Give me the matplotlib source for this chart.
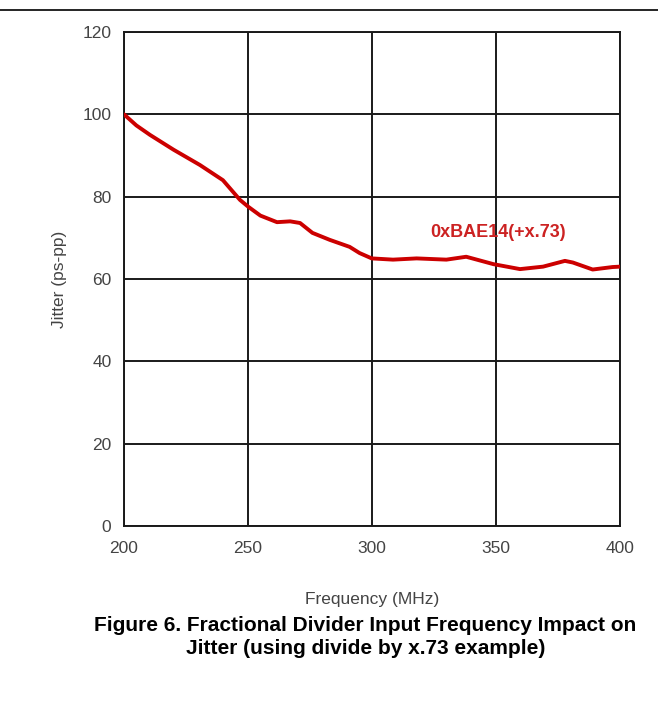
import matplotlib.pyplot as plt
import numpy as np

plt.rcParams['font.family'] = ['Liberation Sans', 'DejaVu Sans']

# values
freq = [200, 205, 210.5, 220, 230.6, 239.9, 246.8, 250, 255, 261.7, 267, 271,
        276, 283, 291, 295, 299.9, 308.5, 318, 330, 338, 349, 359.7, 369,
        377.8, 381, 389, 397, 400]
jitter = [100, 97.3, 95.0, 91.4, 87.7, 84.0, 79.2, 77.6, 75.4, 73.8, 74.0, 73.6,
          71.2, 69.5, 67.8, 66.3, 65.0, 64.7, 65.0, 64.7, 65.4, 63.6, 62.4, 63.0,
          64.4, 64.0, 62.3, 62.9, 63.0]

xticks = [200, 250, 300, 350, 400]
yticks = [0, 20, 40, 60, 80, 100, 120]

fig = plt.figure(figsize=(6.58, 7.03), dpi=100)
ax = fig.add_axes([0.1884, 0.2518, 0.7538, 0.7027])

ax.plot(freq, jitter, color='#cc0000', lw=2.8, solid_joinstyle='round',
        solid_capstyle='round', zorder=3)

ax.set_xlim(200, 400)
ax.set_ylim(0, 120)
ax.set_xticks(xticks)
ax.set_yticks(yticks)
ax.grid(True, color='#1a1a1a', lw=1.4)
for s in ax.spines.values():
    s.set_color('#1a1a1a')
    s.set_linewidth(1.4)
ax.tick_params(length=0, labelsize=12.5, labelcolor='#444444')
ax.tick_params(axis='y', pad=9)
ax.tick_params(axis='x', pad=11)

ax.set_xlabel('Frequency (MHz)', fontsize=12.5, color='#444444', labelpad=26)
ax.set_ylabel('Jitter (ps-pp)', fontsize=12.5, color='#444444', labelpad=11)

ax.text(351, 71.2, '0xBAE14(+x.73)', color='#cc2222', fontsize=13,
        fontweight='bold', ha='center', va='center')

# caption below the chart
fig.text(0.555, 0.094, 'Figure 6. Fractional Divider Input Frequency Impact on\nJitter (using divide by x.73 example)',
         ha='center', va='center', fontsize=15, fontweight='bold', linespacing=1.3)

# rule across the top
fig.add_artist(plt.Line2D([0, 1], [1 - 10 / 703, 1 - 10 / 703], color='black', lw=1.2))

fig.savefig('out.png', dpi=100)
